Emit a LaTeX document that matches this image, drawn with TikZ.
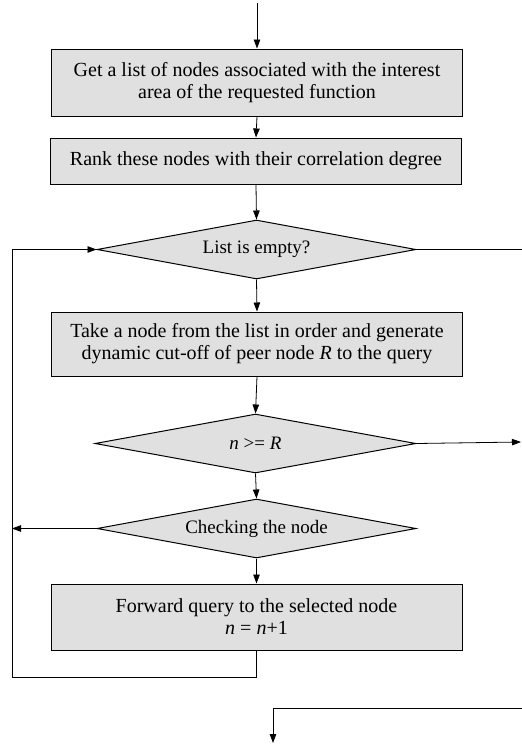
\documentclass[tikz,border=0pt]{standalone}
\usepackage{fontspec}
\setmainfont{Liberation Serif}
\usetikzlibrary{shapes.geometric,arrows.meta}
\definecolor{boxgray}{HTML}{E0E0E0}
\tikzset{
  stepbox/.style={draw, line width=1pt, fill=boxgray, minimum width=411pt,
    minimum height=66pt, inner sep=0pt, align=center,
    font=\fontsize{20}{22}\selectfont},
  decision/.style={draw, diamond, shape aspect=5.4, line width=1pt, fill=boxgray,
    minimum width=319pt, minimum height=59pt, inner sep=0pt,
    font=\fontsize{19}{22}\selectfont},
  flow/.style={line width=0.8pt, -{Triangle[length=9pt,width=6.5pt]}},
  plain/.style={line width=0.8pt}
}
\begin{document}
\begin{tikzpicture}[x=1pt,y=-1pt]
\useasboundingbox (0,0) rectangle (522,745);

% process boxes
\node[stepbox, minimum height=67pt] (get) at (257,82.5)
  {Get a list of nodes associated with the interest\\area of the requested function};
\node[stepbox, minimum height=46pt] (rank) at (256,161)
  {Rank these nodes with their correlation degree};
\node[stepbox, minimum height=64pt] (take) at (257,344)
  {Take a node from the list in order and generate\\dynamic cut-off of peer node \textit{R} to the query};
\node[stepbox, minimum height=66pt] (fwd) at (256.5,617)
  {Forward query to the selected node\\\textit{n} = \textit{n}+1};

% decisions
\node[decision] (empty) at (256.5,249.5) {List is empty?};
\node[decision, minimum width=321pt] (cmp) at (255.5,443.5) {\textit{n} >= \textit{R}};
\node[decision] (check) at (256.5,528.5) {Checking the node};

% free ends
\coordinate (start) at (257,3);
\coordinate (emptyout) at (522,249.5);
\coordinate (cmpout) at (521,442);
\coordinate (loopA) at (256.5,677);
\coordinate (loopB) at (12,677);
\coordinate (loopC) at (12,249.5);
\coordinate (checkout) at (12,528.5);
\coordinate (endin) at (522,708);
\coordinate (endcorner) at (273,708);
\coordinate (endout) at (273,743);

% main flow
\draw[flow] (start) -- (get.north);
\draw[flow] (get.south) -- (rank.north);
\draw[flow] (rank.south) -- (empty.north);
\draw[flow] (empty.south) -- (take.north);
\draw[flow] (take.south) -- (cmp.north);
\draw[flow] (cmp.south) -- (check.north);
\draw[flow] (check.south) -- (fwd.north);

% exits
\draw[plain] (empty.east) -- (emptyout);
\draw[flow] (cmp.east) -- (cmpout);
\draw[flow] (check.west) -- (checkout);

% loop back to the list test
\draw[plain] (fwd.south) -- (loopA) -- (loopB) -- (loopC);
\draw[flow] (loopC) -- (empty.west);

% final branch
\draw[flow] (endin) -- (endcorner) -- (endout);
\end{tikzpicture}
\end{document}
